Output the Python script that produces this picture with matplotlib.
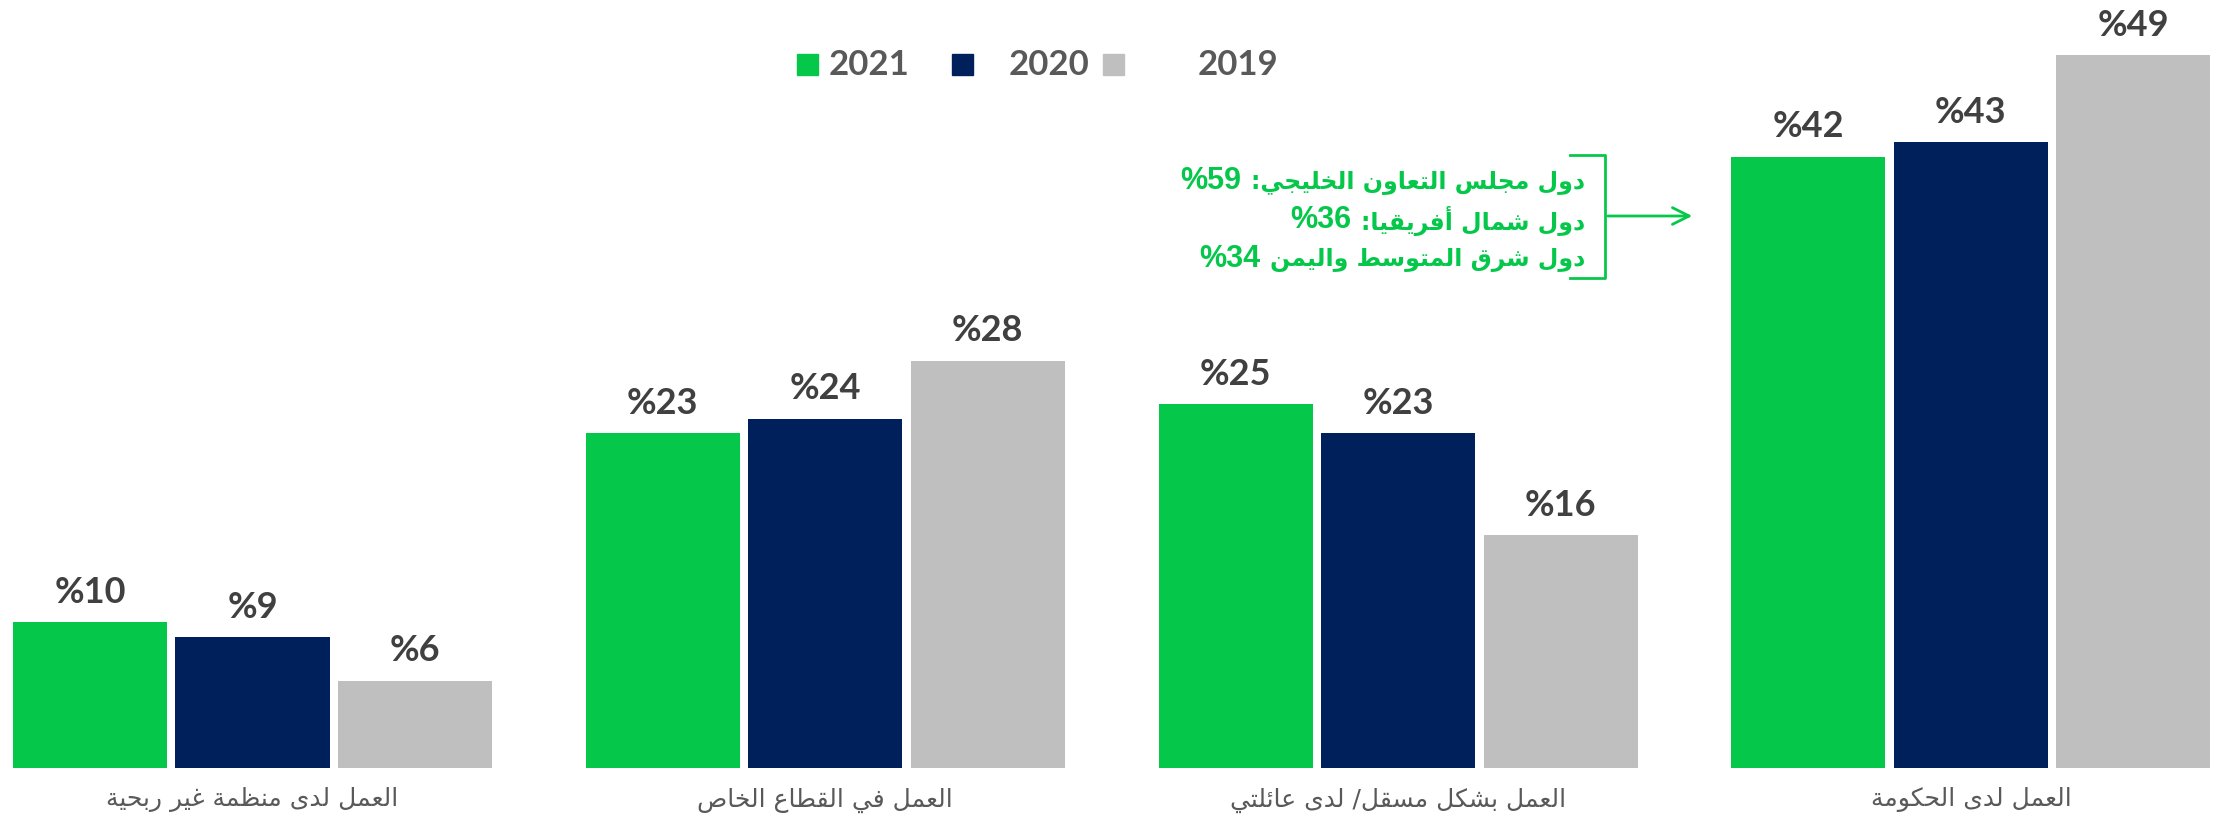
import matplotlib
matplotlib.use("Agg")
import matplotlib.pyplot as plt
import numpy as np
from matplotlib.patches import Rectangle, FancyArrowPatch

# 数据
categories = ["العمل لدى منظمة غير ربحية", "العمل في القطاع الخاص",
              "العمل بشكل مسقل/ لدى عائلتي", "العمل لدى الحكومة"]
years = ["2021", "2020", "2019"]
v2021 = [10, 23, 25, 42]
v2020 = [9, 24, 23, 43]
v2019 = [6, 28, 16, 49]
note_lines = ["دول مجلس التعاون الخليجي:", "دول شمال أفريقيا:", "دول شرق المتوسط واليمن"]
note_values = ["59", "36", "34"]

colors = ["#05C84B", "#00205C", "#BFBFBF"]
txt_dark = "#404040"
txt_gray = "#595959"

# 阿拉伯文字形处理 (matplotlib 不做连写)
forms = {'ء': (0xFE80, 1), 'آ': (0xFE81, 2), 'أ': (0xFE83, 2), 'ؤ': (0xFE85, 2),
         'إ': (0xFE87, 2), 'ئ': (0xFE89, 4), 'ا': (0xFE8D, 2), 'ب': (0xFE8F, 4),
         'ة': (0xFE93, 2), 'ت': (0xFE95, 4), 'ث': (0xFE99, 4), 'ج': (0xFE9D, 4),
         'ح': (0xFEA1, 4), 'خ': (0xFEA5, 4), 'د': (0xFEA9, 2), 'ذ': (0xFEAB, 2),
         'ر': (0xFEAD, 2), 'ز': (0xFEAF, 2), 'س': (0xFEB1, 4), 'ش': (0xFEB5, 4),
         'ص': (0xFEB9, 4), 'ض': (0xFEBD, 4), 'ط': (0xFEC1, 4), 'ظ': (0xFEC5, 4),
         'ع': (0xFEC9, 4), 'غ': (0xFECD, 4), 'ف': (0xFED1, 4), 'ق': (0xFED5, 4),
         'ك': (0xFED9, 4), 'ل': (0xFEDD, 4), 'م': (0xFEE1, 4), 'ن': (0xFEE5, 4),
         'ه': (0xFEE9, 4), 'و': (0xFEED, 2), 'ى': (0xFEEF, 2), 'ي': (0xFEF1, 4)}
lam_alef = {'ا': 0xFEFB, 'أ': 0xFEF7, 'إ': 0xFEF9, 'آ': 0xFEF5}


def ar(text):
    out = []
    i = 0
    n = len(text)
    while i < n:
        c = text[i]
        if c not in forms:
            out.append(c)
            i += 1
            continue
        prev = text[i - 1] if i > 0 else ""
        joins_prev = prev in forms and forms[prev][1] == 4
        if c == 'ل' and i + 1 < n and text[i + 1] in lam_alef:
            out.append(chr(lam_alef[text[i + 1]] + (1 if joins_prev else 0)))
            i += 2
            continue
        base, k = forms[c]
        nxt = text[i + 1] if i + 1 < n else ""
        joins_next = k == 4 and nxt in forms
        if k == 1:
            g = base
        elif joins_prev and joins_next:
            g = base + 3
        elif joins_prev:
            g = base + 1
        elif joins_next:
            g = base + 2
        else:
            g = base
        out.append(chr(g))
        i += 1
    return "".join(out)[::-1]


fig = plt.figure(figsize=(22.21, 8.25), dpi=100)
W, H = 2221, 825
ax = fig.add_axes([0, 57 / H, 1, 768 / H])

x = np.arange(len(categories))
off = 0.2837
bw = 0.269
for vals, dx, col in zip([v2021, v2020, v2019], [-off, 0, off], colors):
    bars = ax.bar(x + dx, vals, width=bw, color=col)
    for b, v in zip(bars, vals):
        ax.annotate("%" + str(v), (b.get_x() + b.get_width() / 2, v),
                    xytext=(0, 14), textcoords="offset points",
                    ha="center", va="baseline", fontsize=26,
                    fontweight="bold", family=["Lato", "DejaVu Sans"], color=txt_dark)

ax.set_xlim(-0.4408, 3.4366)
ax.set_ylim(0, 52.78)
ax.set_xticks(x, [ar(c) for c in categories])
ax.tick_params(axis="x", length=0, pad=14, labelsize=18, labelcolor=txt_gray)
for lab in ax.get_xticklabels():
    lab.set_family(["DejaVu Sans"])
ax.set_yticks([])
for s in ax.spines.values():
    s.set_visible(False)


def fx(px):
    return px / W


def fy(py):
    return 1 - py / H


# 图例
leg = [(797, 829), (952, 1009), (1103, 1198)]
for (sq, tx), col, yr in zip(leg, colors, years):
    fig.patches.append(Rectangle((fx(sq), fy(75)), 21 / W, 21 / H,
                                 transform=fig.transFigure, color=col))
    fig.text(fx(tx), fy(65), yr, fontsize=25, fontweight="bold",
             family=["Lato"], color=txt_gray, ha="left", va="center")

# 注释
green = colors[0]
for j, (line, val) in enumerate(zip(note_lines, note_values)):
    t = fig.text(fx(1585), fy(182 + j * 39), ar(line),
                 fontsize=17, fontweight="bold", family=["DejaVu Sans"],
                 color=green, ha="right", va="center")
    ax.annotate("%" + val, xy=(0, 0.5), xycoords=t, xytext=(-7, 1),
                textcoords="offset points", fontsize=22, fontweight="bold",
                family=["Liberation Sans"], color=green, ha="right", va="center",
                annotation_clip=False)

fig.add_artist(plt.Line2D([fx(1570), fx(1605), fx(1605), fx(1570)],
                          [fy(155), fy(155), fy(278), fy(278)],
                          transform=fig.transFigure, color=green, lw=2))
fig.add_artist(FancyArrowPatch((fx(1605), fy(216)), (fx(1695), fy(216)),
                               transform=fig.transFigure,
                               arrowstyle="->,head_length=12,head_width=6",
                               color=green, lw=2))

fig.savefig("out.png", dpi=100)
